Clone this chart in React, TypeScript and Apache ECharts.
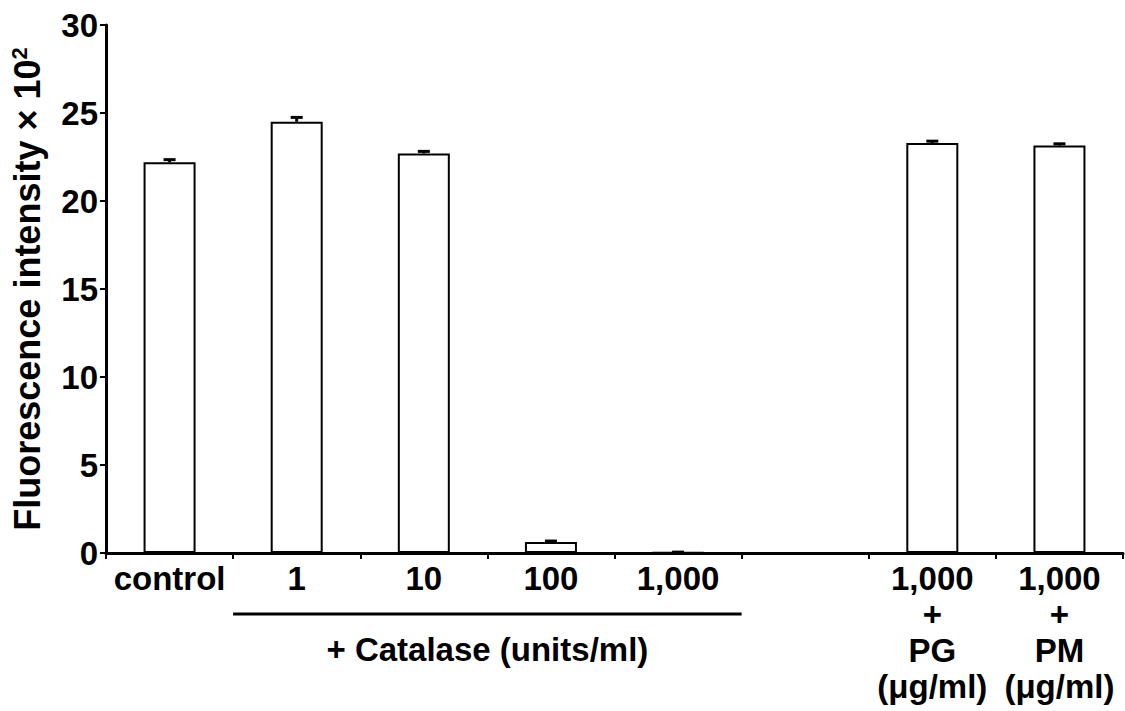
import React, { useEffect, useRef } from 'react';
import * as echarts from 'echarts';

const categories = ['control', '1', '10', '100', '1,000', '', '1,000\n+\nPG\n(μg/ml)', '1,000\n+\nPM\n(μg/ml)'];
const means: (number | null)[] = [22.2, 24.5, 22.7, 0.62, 0.03, null, 23.3, 23.15];
const errors: (number | null)[] = [0.15, 0.25, 0.12, 0.06, 0.02, null, 0.1, 0.1];
const yMin = 0;
const yMax = 30;
const yStep = 5;
const yTitle = 'Fluorescence intensity × 10';
const groupLabel = '+ Catalase (units/ml)';

const FONT = '"Liberation Sans", Arial, Helvetica, sans-serif';

export default function App() {
  const ref = useRef<HTMLDivElement>(null);
  useEffect(() => {
    document.body.style.margin = '0';
    const chart = echarts.init(ref.current!, null, { renderer: 'svg' });
    const errData = categories
      .map((_, i) => (means[i] == null ? null : [i, means[i], errors[i]]))
      .filter((d) => d !== null);
    chart.setOption({
      animation: false,
      backgroundColor: '#fff',
      grid: { left: 106, right: 2, top: 25, bottom: 158 },
      xAxis: {
        type: 'category',
        data: categories,
        boundaryGap: true,
        axisLine: { lineStyle: { color: '#000', width: 3 } },
        axisTick: { show: true, length: 6, inside: false, lineStyle: { color: '#000', width: 2 } },
        axisLabel: {
          color: '#000',
          fontFamily: FONT,
          fontWeight: 'bold',
          fontSize: 33,
          lineHeight: 36,
          margin: 7,
          interval: 0,
        },
      },
      yAxis: {
        type: 'value',
        min: yMin,
        max: yMax,
        interval: yStep,
        name: `{a|${yTitle}}{b|2}`,
        nameLocation: 'middle',
        nameGap: 60,
        nameRotate: 90,
        nameTextStyle: {
          color: '#000',
          fontFamily: FONT,
          fontWeight: 'bold',
          rich: {
            a: { fontSize: 36, fontFamily: FONT, fontWeight: 'bold', color: '#000', lineHeight: 38 },
            b: { fontSize: 22, fontFamily: FONT, fontWeight: 'bold', color: '#000', verticalAlign: 'top', lineHeight: 38 },
          },
        },
        splitLine: { show: false },
        axisLine: { show: true, lineStyle: { color: '#000', width: 3 } },
        axisTick: { show: true, length: 6, lineStyle: { color: '#000', width: 2 } },
        axisLabel: {
          color: '#000',
          fontFamily: FONT,
          fontWeight: 'bold',
          fontSize: 33,
          margin: 8,
        },
      },
      series: [
        {
          type: 'bar',
          data: means.map((v) => (v == null ? '-' : v)),
          barWidth: 52,
          itemStyle: { color: '#fff', borderColor: '#000', borderWidth: 2 },
          z: 2,
        },
        {
          type: 'custom',
          data: errData,
          encode: { x: 0, y: 1 },
          z: 3,
          renderItem: (params: any, api: any) => {
            const x = api.value(0);
            const m = api.value(1);
            const e = api.value(2);
            const top = api.coord([x, m + e]);
            const base = api.coord([x, m]);
            const half = 6;
            return {
              type: 'group',
              children: [
                {
                  type: 'line',
                  shape: { x1: top[0], y1: base[1], x2: top[0], y2: top[1] },
                  style: { stroke: '#000', lineWidth: 3 },
                },
                {
                  type: 'line',
                  shape: { x1: top[0] - half, y1: top[1], x2: top[0] + half, y2: top[1] },
                  style: { stroke: '#000', lineWidth: 3 },
                },
              ],
            };
          },
        },
      ],
    });
    const c1 = chart.convertToPixel({ xAxisIndex: 0 }, 1) as number;
    const c4 = chart.convertToPixel({ xAxisIndex: 0 }, 4) as number;
    const band = (c4 - c1) / 3;
    const xL = c1 - band / 2;
    const xR = c4 + band / 2;
    const y0 = chart.convertToPixel({ yAxisIndex: 0 }, 0) as number;
    chart.setOption({
      graphic: [
        {
          type: 'line',
          shape: { x1: xL, y1: y0 + 61, x2: xR, y2: y0 + 61 },
          style: { stroke: '#000', lineWidth: 3 },
        },
        {
          type: 'text',
          x: (xL + xR) / 2,
          y: y0 + 96,
          style: {
            text: groupLabel,
            fill: '#000',
            font: `bold 33px ${FONT}`,
            textAlign: 'center',
            textVerticalAlign: 'middle',
          },
        },
      ],
    });
    return () => chart.dispose();
  }, []);
  return <div ref={ref} style={{ width: 1125, height: 711 }} />;
}
